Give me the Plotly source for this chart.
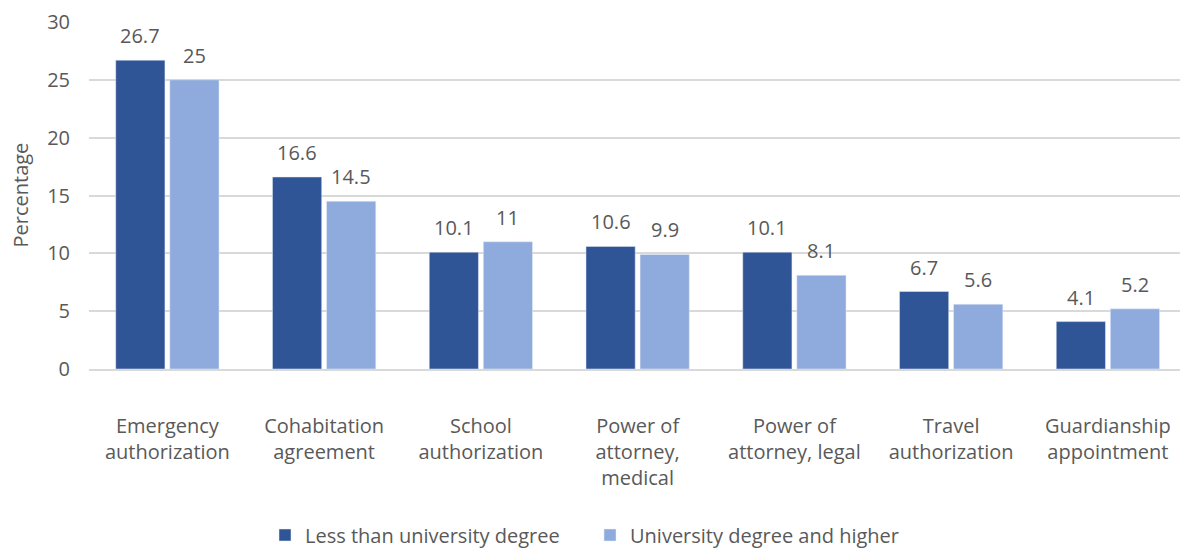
import plotly.graph_objects as go

categories = [
    "Emergency<br>authorization",
    "Cohabitation<br>agreement",
    "School<br>authorization",
    "Power of<br>attorney,<br>medical",
    "Power of<br>attorney, legal",
    "Travel<br>authorization",
    "Guardianship<br>appointment",
]
less_than_degree = [26.7, 16.6, 10.1, 10.6, 10.1, 6.7, 4.1]
degree_and_higher = [25, 14.5, 11, 9.9, 8.1, 5.6, 5.2]
y_ticks = [0, 5, 10, 15, 20, 25, 30]

FONT = "Open Sans"
GREY = "#595959"
SIZE = 20
WIDTH, HEIGHT = 1180, 548
MARGIN = dict(l=89, r=0, t=22, b=179)
BARGAP = 0.31
BARGROUPGAP = 0.09
# the last category runs slightly past the right edge of the figure
X_RANGE = [-0.5, len(categories) - 0.54]

fig = go.Figure()
fig.add_trace(go.Bar(
    name="Less than university degree",
    x=categories, y=less_than_degree,
    marker_color="#2F5597",
))
fig.add_trace(go.Bar(
    name="University degree and higher",
    x=categories, y=degree_and_higher,
    marker_color="#8FAADC",
))

# value labels above each bar, shifted to the bar's slot within its group
plot_w = WIDTH - MARGIN["l"] - MARGIN["r"]
pitch = plot_w / (X_RANGE[1] - X_RANGE[0])
slot = pitch * (1 - BARGAP) / 2
for series, sign in ((less_than_degree, -1), (degree_and_higher, 1)):
    for cat, val in zip(categories, series):
        fig.add_annotation(
            x=cat, y=val, xref="x", yref="y",
            text=f"{val:g}", showarrow=False,
            xanchor="center", yanchor="bottom",
            xshift=sign * slot / 2, yshift=9,
            font=dict(family=FONT, size=SIZE, color=GREY),
        )

# y-axis title
fig.add_annotation(
    x=-(MARGIN["l"] - 20) / plot_w, y=0.5, xref="paper", yref="paper",
    text="Percentage", textangle=-90, showarrow=False,
    xanchor="center", yanchor="middle",
    font=dict(family=FONT, size=SIZE, color=GREY),
)

fig.update_layout(
    width=WIDTH, height=HEIGHT,
    margin=MARGIN,
    paper_bgcolor="white", plot_bgcolor="white",
    barmode="group", bargap=BARGAP, bargroupgap=BARGROUPGAP,
    font=dict(family=FONT, size=SIZE, color=GREY),
    showlegend=True,
    legend=dict(
        orientation="h", xref="container", yref="container",
        x=0.5, xanchor="center", y=13 / HEIGHT, yanchor="middle",
        font=dict(family=FONT, size=SIZE, color=GREY),
        itemwidth=30, traceorder="normal", entrywidth=280,
    ),
)
fig.update_xaxes(
    range=X_RANGE,
    showline=True, linecolor="#D9D9D9", linewidth=2,
    tickfont=dict(family=FONT, size=SIZE, color=GREY),
    ticklabelstandoff=38, automargin=False,
)
fig.update_yaxes(
    range=[0, 30], tickvals=y_ticks,
    showgrid=True, gridcolor="#D9D9D9", gridwidth=2,
    zeroline=False, automargin=False,
    tickfont=dict(family=FONT, size=SIZE, color=GREY),
    ticklabelstandoff=18,
)

fig.write_html("out.html")
